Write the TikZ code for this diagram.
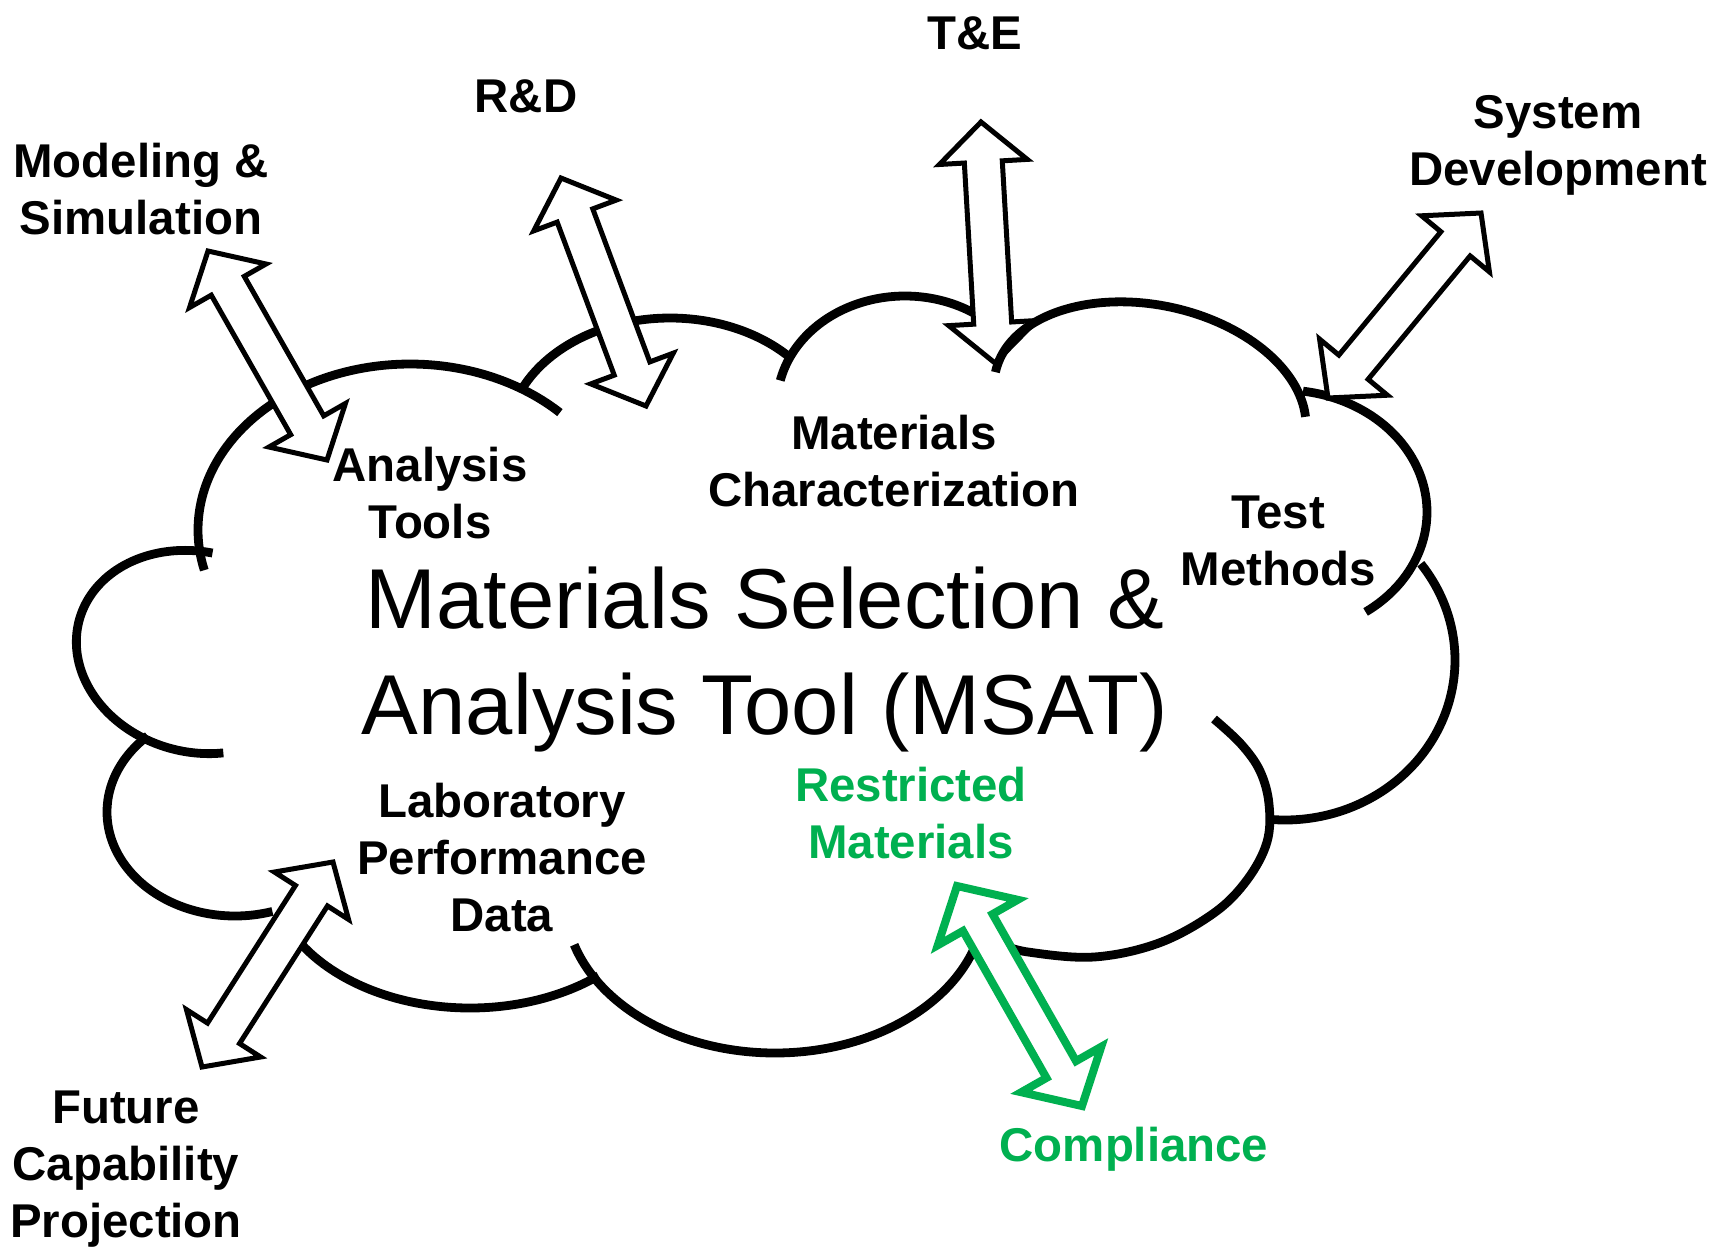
\documentclass[tikz,border=0pt]{standalone}
\usepackage{fontspec}
\setmainfont{Liberation Sans}
\usetikzlibrary{calc}
\definecolor{msgreen}{HTML}{00B050}

% double-headed block arrow between two named coordinates
\newcommand\arrHL{20pt}% head length
\newcommand\arrHW{22pt}% head half-width
\newcommand\arrSW{9.5pt}% shaft half-width
\newcommand\dblarrow[3][]{%
  \coordinate (#2-h) at ($(#2)!\arrHL!(#3)$);
  \coordinate (#3-h) at ($(#3)!\arrHL!(#2)$);
  \draw[blockarrow,#1]
    (#2) -- ($(#2-h)!\arrHW!90:(#3)$) -- ($(#2-h)!\arrSW!90:(#3)$)
    -- ($(#3-h)!\arrSW!-90:(#2)$) -- ($(#3-h)!\arrHW!-90:(#2)$)
    -- (#3) -- ($(#3-h)!\arrHW!90:(#2)$) -- ($(#3-h)!\arrSW!90:(#2)$)
    -- ($(#2-h)!\arrSW!-90:(#3)$) -- ($(#2-h)!\arrHW!-90:(#3)$) -- cycle;
}

% one lobe of the cloud: part of an ellipse
% centre (#1,#2), radii #3 and #4, tilt #5, from angle #6 to angle #7
\newcommand\lobe[7]{%
  \draw[cloudline] plot[domain=#6:#7, samples=70, smooth]
    ({#1+#3*cos(\x)*cos(#5)-#4*sin(\x)*sin(#5)},
     {#2-#3*cos(\x)*sin(#5)-#4*sin(\x)*cos(#5)});
}

\tikzset{
  cloudline/.style={line width=4.4pt, line cap=butt, line join=round},
  blockarrow/.style={draw=black, fill=white, line width=2.5pt, line join=miter},
  greenarrow/.style={draw=msgreen, line width=4pt},
  lbl/.style={font=\fontsize{23.7}{28.5}\selectfont\bfseries, align=center, inner sep=0pt},
  maintitle/.style={font=\fontsize{42.5}{53}\selectfont, align=center, inner sep=0pt},
}

\begin{document}
\begin{tikzpicture}[x=0.5pt, y=-0.5pt]
\fill[white] (0,0) rectangle (1715,1249);
\useasboundingbox (0,0) rectangle (1715,1249);

% ---- cloud outline, one arc per lobe ----
\lobe{410}{530}{212}{166}{0}{45}{194}      % upper left
\lobe{670}{440}{163}{122}{0}{43}{154}      % top, left
\lobe{905}{405}{128}{109}{0}{55}{167}      % top, middle
\lobe{1283}{512}{144}{122}{0}{-55}{82}     % upper right
\lobe{1285}{660}{170}{160}{0}{-95}{37}     % right
\draw[cloudline] plot[smooth, tension=0.6] coordinates
  {(1214,719) (1241,744) (1260,771) (1269,804) (1267,842) (1247,880) (1214,913) (1159,943) (1094,957) (1028,952) (1000,944)};
\lobe{775}{900}{210}{153}{0}{197}{345}     % bottom, middle
\lobe{470}{870}{200}{138}{0}{213}{310}     % bottom, left
\lobe{235}{812}{128}{104}{0}{133}{287}     % lower left
\lobe{197}{652}{122}{100}{-15}{95}{295}    % left

% ---- arrow ends ----
\coordinate (ms-out) at (208,251);   \coordinate (ms-in) at (327,460);
\coordinate (rd-out) at (561,178);   \coordinate (rd-in) at (646,406);
\coordinate (te-out) at (981,122);   \coordinate (te-in) at (995,363);
\coordinate (sd-out) at (1481,213);  \coordinate (sd-in) at (1328,398);
\coordinate (fc-out) at (202,1067);  \coordinate (fc-in) at (333,862);
\coordinate (co-out) at (1082,1106); \coordinate (co-in) at (957,886);

\dblarrow{ms-out}{ms-in}
\dblarrow{rd-out}{rd-in}
\dblarrow{te-out}{te-in}
\dblarrow{sd-out}{sd-in}
\dblarrow{fc-out}{fc-in}
\begin{scope}
  \renewcommand\arrHL{21pt}\renewcommand\arrHW{23pt}\renewcommand\arrSW{8.5pt}
  \dblarrow[greenarrow]{co-out}{co-in}
\end{scope}

% top right lobe lies over the lower head of the T&E arrow
\lobe{1150}{405}{158}{100}{-12}{12}{180}

% ---- texts ----
\node[lbl] (ms) at (141,189) {Modeling \&\\Simulation};
\node[lbl] (rd) at (526,96) {R\&D};
\node[lbl] (te) at (975,33) {T\&E};
\node[lbl] (sd) at (1558,145.5) {System\\Development};
\node[lbl] (at) at (430,493) {Analysis\\Tools};
\node[lbl] (mc) at (894,461) {Materials\\Characterization};
\node[lbl] (tm) at (1278,541) {Test\\Methods};
\node[maintitle] (msat) at (765,660) {Materials Selection \&\\Analysis Tool (MSAT)};
\node[lbl] (lpd) at (502,858) {Laboratory\\Performance\\Data};
\node[lbl, text=msgreen] (rm) at (911,813) {Restricted\\Materials};
\node[lbl, text=msgreen] (comp) at (1134,1149) {Compliance};
\node[lbl] (fcp) at (126,1169) {Future\\Capability\\Projection};
\end{tikzpicture}
\end{document}
